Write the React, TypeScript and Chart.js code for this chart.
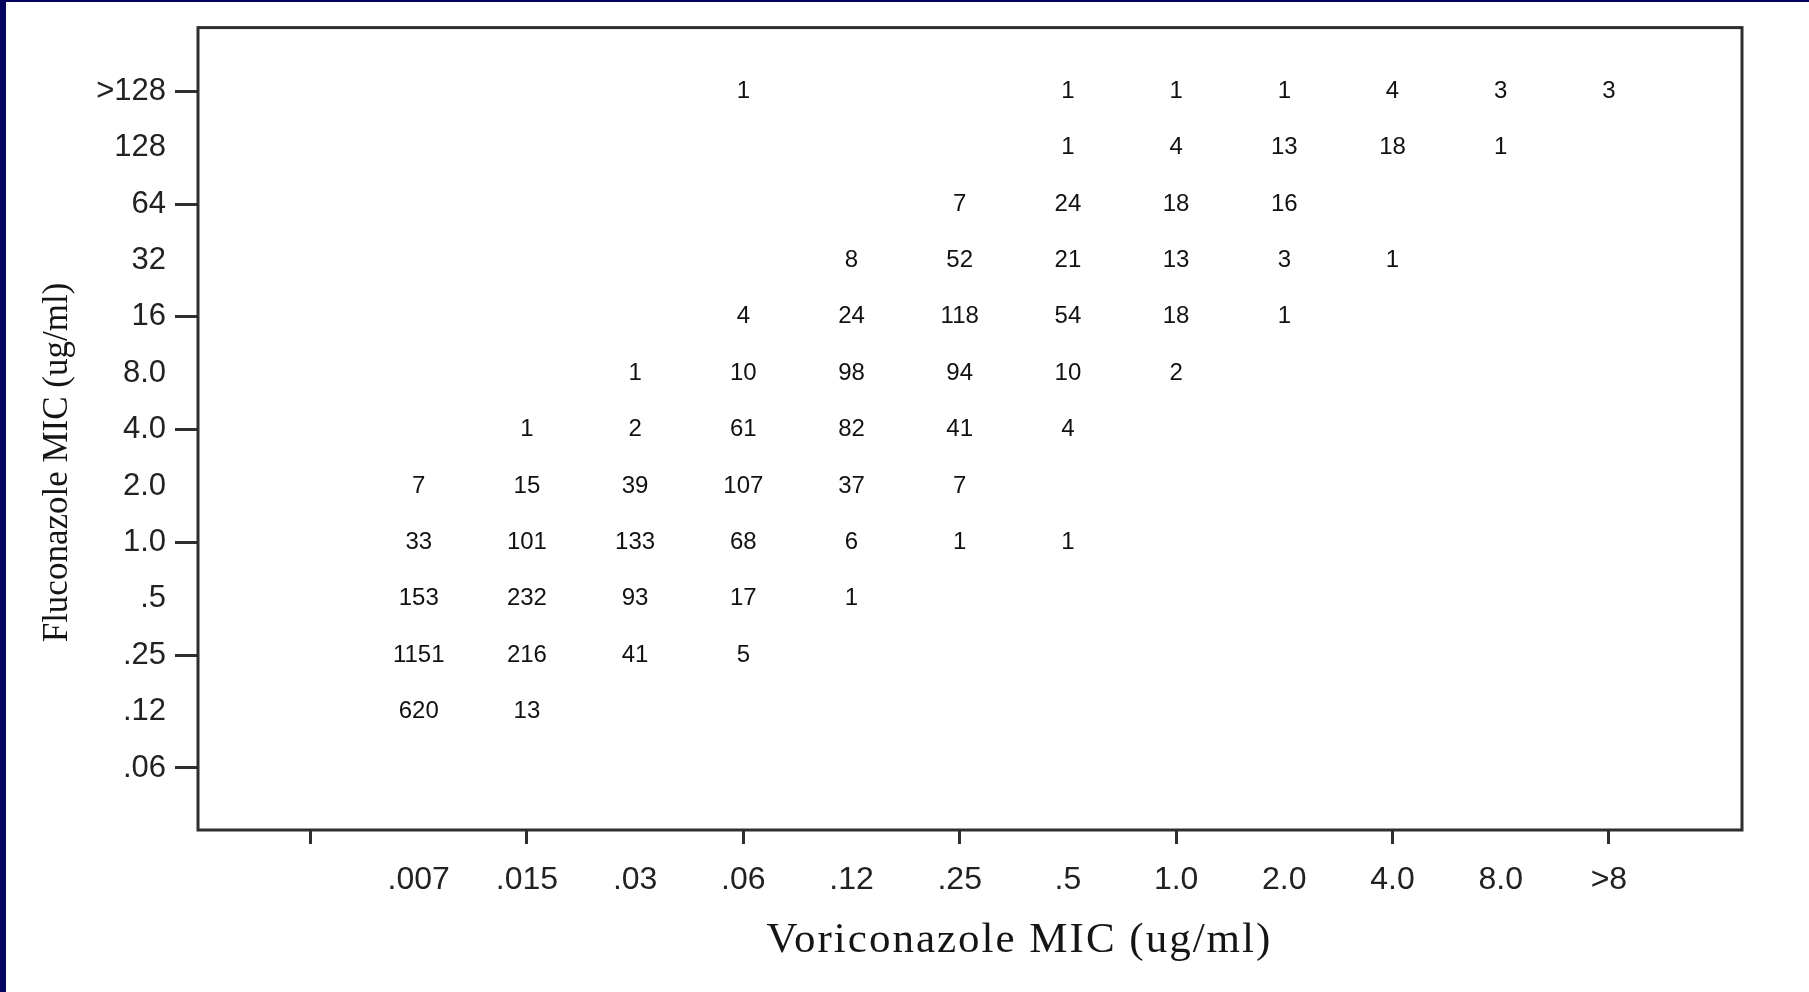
import React, { useEffect, useRef } from "react";
import { Chart, registerables } from "chart.js";

Chart.register(...registerables);

// Voriconazole MIC categories (x axis)
const voriLabels = [".007", ".015", ".03", ".06", ".12", ".25", ".5", "1.0", "2.0", "4.0", "8.0", ">8"];
// Fluconazole MIC categories (y axis, bottom to top)
const flucoLabels = [".06", ".12", ".25", ".5", "1.0", "2.0", "4.0", "8.0", "16", "32", "64", "128", ">128"];

// Counts per Fluconazole row, one entry per Voriconazole column
const row006 = [null, null, null, null, null, null, null, null, null, null, null, null];
const row012 = [620, 13, null, null, null, null, null, null, null, null, null, null];
const row025 = [1151, 216, 41, 5, null, null, null, null, null, null, null, null];
const row05 = [153, 232, 93, 17, 1, null, null, null, null, null, null, null];
const row1 = [33, 101, 133, 68, 6, 1, 1, null, null, null, null, null];
const row2 = [7, 15, 39, 107, 37, 7, null, null, null, null, null, null];
const row4 = [null, 1, 2, 61, 82, 41, 4, null, null, null, null, null];
const row8 = [null, null, 1, 10, 98, 94, 10, 2, null, null, null, null];
const row16 = [null, null, null, 4, 24, 118, 54, 18, 1, null, null, null];
const row32 = [null, null, null, null, 8, 52, 21, 13, 3, 1, null, null];
const row64 = [null, null, null, null, null, 7, 24, 18, 16, null, null, null];
const row128 = [null, null, null, null, null, null, 1, 4, 13, 18, 1, null];
const rowGt128 = [null, null, null, 1, null, null, 1, 1, 1, 4, 3, 3];

const rows: (number | null)[][] = [row006, row012, row025, row05, row1, row2, row4, row8, row16, row32, row64, row128, rowGt128];

const xTickValues = [-1, 0, 1, 2, 3, 4, 5, 6, 7, 8, 9, 10, 11];
const yTickValues = [0, 1, 2, 3, 4, 5, 6, 7, 8, 9, 10, 11, 12];

const W = 1809;
const H = 992;

export default function App() {
  const canvasRef = useRef<HTMLCanvasElement | null>(null);

  useEffect(() => {
    document.body.style.margin = "0";
    document.body.style.overflow = "hidden";
    const canvas = canvasRef.current;
    if (!canvas) return;

    const points: { x: number; y: number; v: number }[] = [];
    rows.forEach((row, r) => {
      row.forEach((v, c) => {
        if (v !== null && v !== undefined) points.push({ x: c, y: r, v });
      });
    });

    const framePlugin = {
      id: "frameAndText",
      afterDatasetsDraw(chart: any) {
        const { ctx } = chart;
        const meta = chart.getDatasetMeta(0);
        ctx.save();
        ctx.font = "24px 'Liberation Sans', Arial, sans-serif";
        ctx.fillStyle = "#111111";
        ctx.textAlign = "center";
        ctx.textBaseline = "middle";
        meta.data.forEach((el: any, i: number) => {
          const p = chart.data.datasets[0].data[i];
          ctx.fillText(String(p.v), el.x, el.y);
        });
        ctx.restore();
      },
      afterDraw(chart: any) {
        const { ctx, chartArea } = chart;
        ctx.save();
        ctx.strokeStyle = "#2e2e2e";
        ctx.lineWidth = 3;
        ctx.strokeRect(chartArea.left, chartArea.top, chartArea.right - chartArea.left, chartArea.bottom - chartArea.top);
        ctx.fillStyle = "#151515";
        ctx.textAlign = "center";
        ctx.textBaseline = "middle";
        const w = chartArea.right - chartArea.left;
        const h = chartArea.bottom - chartArea.top;
        ctx.font = "43px 'Liberation Serif', 'Times New Roman', serif";
        try { (ctx as any).letterSpacing = "2px"; } catch (e) {}
        ctx.fillText("Voriconazole MIC (ug/ml)", chartArea.left + w * 0.532, chartArea.bottom + 111);
        try { (ctx as any).letterSpacing = "0px"; } catch (e) {}
        ctx.translate(58, chartArea.top + h * 0.542);
        ctx.rotate(-Math.PI / 2);
        ctx.font = "35px 'Liberation Serif', 'Times New Roman', serif";
        ctx.fillText("Fluconazole MIC (ug/ml)", 0, 0);
        ctx.restore();
      },
    };

    const chart = new Chart(canvas, {
      type: "scatter",
      data: {
        datasets: [
          {
            data: points,
            pointRadius: 0,
            pointHoverRadius: 0,
            showLine: false,
          },
        ],
      },
      options: {
        animation: false,
        responsive: false,
        maintainAspectRatio: false,
        layout: { padding: { left: 0, top: 24, right: 67, bottom: 0 } },
        plugins: {
          legend: { display: false },
          tooltip: { enabled: false },
        },
        scales: {
          x: {
            type: "linear",
            min: -2.04,
            max: 12.23,
            afterBuildTicks: (scale: any) => {
              scale.ticks = xTickValues.map((v) => ({ value: v }));
            },
            afterFit: (scale: any) => {
              scale.height = 162;
            },
            border: { display: false },
            grid: {
              drawOnChartArea: false,
              drawTicks: true,
              tickLength: 14,
              tickWidth: 3,
              tickColor: (ctx: any) =>
                ctx.tick && (ctx.tick.value === -1 || Math.abs(ctx.tick.value % 2) === 1) ? "#2e2e2e" : "rgba(0,0,0,0)",
            },
            ticks: {
              autoSkip: false,
              maxRotation: 0,
              minRotation: 0,
              padding: 17,
              color: "#222",
              font: { family: "'Liberation Sans', Arial, sans-serif", size: 32 },
              callback: (v: any) => voriLabels[v as number] ?? "",
            },
          },
          y: {
            type: "linear",
            min: -1.1,
            max: 13.13,
            afterBuildTicks: (scale: any) => {
              scale.ticks = yTickValues.map((v) => ({ value: v }));
            },
            afterFit: (scale: any) => {
              scale.width = 198;
            },
            border: { display: false },
            grid: {
              drawOnChartArea: false,
              drawTicks: true,
              tickLength: 23,
              tickWidth: 3,
              tickColor: (ctx: any) =>
                ctx.tick && ctx.tick.value % 2 === 0 ? "#2e2e2e" : "rgba(0,0,0,0)",
            },
            ticks: {
              autoSkip: false,
              padding: 9,
              color: "#222",
              font: { family: "'Liberation Sans', Arial, sans-serif", size: 31 },
              callback: (v: any) => flucoLabels[v as number] ?? "",
            },
          },
        },
      },
      plugins: [framePlugin],
    });

    return () => {
      chart.destroy();
    };
  }, []);

  return (
    <div style={{ position: "relative", width: W, height: H, background: "#ffffff", overflow: "hidden" }}>
      <canvas ref={canvasRef} width={W} height={H} style={{ position: "absolute", left: 0, top: 0, width: W, height: H }} />
      <div style={{ position: "absolute", left: 0, top: 0, width: 6, height: H, background: "#05055e" }} />
      <div style={{ position: "absolute", left: 0, top: 0, width: W, height: 2, background: "#05055e" }} />
    </div>
  );
}
